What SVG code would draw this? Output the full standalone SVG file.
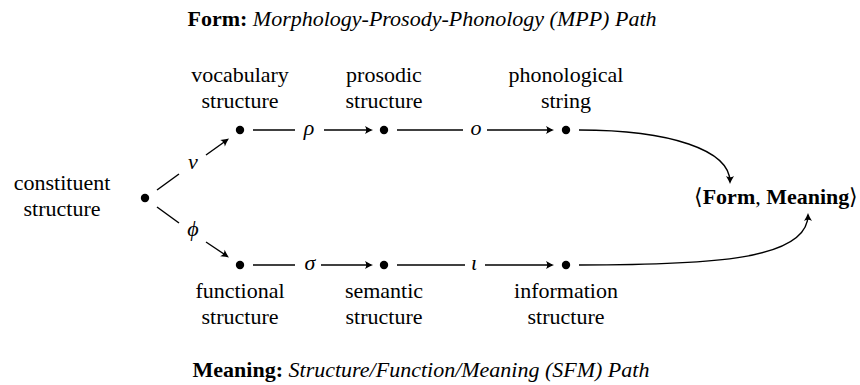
<svg xmlns="http://www.w3.org/2000/svg" width="860" height="385" viewBox="0 0 860 385">
  <style>
    .edge { fill: none; stroke: #000; stroke-width: 1.4; }
    .dot { fill: #000; }
    .head { fill: #000; }
  </style>
  <defs>
    <!-- barbed arrowhead, tip at the origin, pointing along +x -->
    <path id="ah" d="M -8,-4 Q -3,-1 0,0 Q -3,1 -8,4 Q -5.5,0 -8,-4 Z"/>
  </defs>

  <!-- headings -->
  <text x="422" y="26" font-family="Liberation Serif, Times New Roman, serif" font-size="22" text-anchor="middle"><tspan font-weight="bold">Form:</tspan> <tspan font-style="italic">Morphology-Prosody-Phonology (MPP) Path</tspan></text>
  <text x="421" y="377" font-family="Liberation Serif, Times New Roman, serif" font-size="22" text-anchor="middle"><tspan font-weight="bold">Meaning:</tspan> <tspan font-style="italic">Structure/Function/Meaning (SFM) Path</tspan></text>

  <!-- maps between structures, and the two curves into the form/meaning pair -->
  <g id="connectors">
    <line class="edge" x1="157" y1="190" x2="179" y2="174"/>
    <line class="edge" x1="206" y1="155" x2="227" y2="140"/>
    <use href="#ah" class="head" transform="translate(229,138.5) rotate(-35.7)"/>
    <text x="193" y="169" font-family="Liberation Serif, Times New Roman, serif" font-size="22" font-style="italic" text-anchor="middle">ν</text>

    <line class="edge" x1="157" y1="207" x2="179" y2="223"/>
    <line class="edge" x1="206" y1="242" x2="227" y2="256"/>
    <use href="#ah" class="head" transform="translate(229,257.5) rotate(34)"/>
    <text x="193" y="236" font-family="Liberation Serif, Times New Roman, serif" font-size="22" font-style="italic" text-anchor="middle">ϕ</text>

    <line class="edge" x1="253" y1="130" x2="295" y2="130"/>
    <text x="309" y="135" font-family="Liberation Serif, Times New Roman, serif" font-size="22" font-style="italic" text-anchor="middle">ρ</text>
    <line class="edge" x1="324" y1="130" x2="371" y2="130"/>
    <use href="#ah" class="head" transform="translate(373,130)"/>

    <line class="edge" x1="397" y1="130" x2="463" y2="130"/>
    <text x="476" y="135" font-family="Liberation Serif, Times New Roman, serif" font-size="22" font-style="italic" text-anchor="middle">o</text>
    <line class="edge" x1="487" y1="130" x2="552" y2="130"/>
    <use href="#ah" class="head" transform="translate(554,130)"/>

    <path class="edge" d="M 579,130 C 670,130 730,150 730,182"/>
    <use href="#ah" class="head" transform="translate(730,184) rotate(90)"/>

    <line class="edge" x1="253" y1="265" x2="295" y2="265"/>
    <text x="310" y="270" font-family="Liberation Serif, Times New Roman, serif" font-size="22" font-style="italic" text-anchor="middle">σ</text>
    <line class="edge" x1="321" y1="265" x2="371" y2="265"/>
    <use href="#ah" class="head" transform="translate(373,265)"/>

    <line class="edge" x1="397" y1="265" x2="465" y2="265"/>
    <text x="474" y="270" font-family="Liberation Serif, Times New Roman, serif" font-size="22" font-style="italic" text-anchor="middle">ι</text>
    <line class="edge" x1="485" y1="265" x2="552" y2="265"/>
    <use href="#ah" class="head" transform="translate(554,265)"/>

    <path class="edge" d="M 579,265 C 710,265 808,260 808,215"/>
    <use href="#ah" class="head" transform="translate(808,213) rotate(-90)"/>
  </g>

  <!-- structures -->
  <g id="constituent">
    <circle class="dot" cx="145" cy="198" r="4.2"/>
    <text x="62" y="190" font-family="Liberation Serif, Times New Roman, serif" font-size="22" text-anchor="middle">constituent</text>
    <text x="62" y="216" font-family="Liberation Serif, Times New Roman, serif" font-size="22" text-anchor="middle">structure</text>
  </g>
  <g id="vocabulary">
    <circle class="dot" cx="240" cy="130" r="4.2"/>
    <text x="240" y="82" font-family="Liberation Serif, Times New Roman, serif" font-size="22" text-anchor="middle">vocabulary</text>
    <text x="240" y="108" font-family="Liberation Serif, Times New Roman, serif" font-size="22" text-anchor="middle">structure</text>
  </g>
  <g id="prosodic">
    <circle class="dot" cx="384" cy="130" r="4.2"/>
    <text x="384" y="82" font-family="Liberation Serif, Times New Roman, serif" font-size="22" text-anchor="middle">prosodic</text>
    <text x="384" y="108" font-family="Liberation Serif, Times New Roman, serif" font-size="22" text-anchor="middle">structure</text>
  </g>
  <g id="phonological">
    <circle class="dot" cx="566" cy="130" r="4.2"/>
    <text x="566" y="82" font-family="Liberation Serif, Times New Roman, serif" font-size="22" text-anchor="middle">phonological</text>
    <text x="566" y="108" font-family="Liberation Serif, Times New Roman, serif" font-size="22" text-anchor="middle">string</text>
  </g>
  <g id="functional">
    <circle class="dot" cx="240" cy="265" r="4.2"/>
    <text x="240" y="298" font-family="Liberation Serif, Times New Roman, serif" font-size="22" text-anchor="middle">functional</text>
    <text x="240" y="324" font-family="Liberation Serif, Times New Roman, serif" font-size="22" text-anchor="middle">structure</text>
  </g>
  <g id="semantic">
    <circle class="dot" cx="384" cy="265" r="4.2"/>
    <text x="384" y="298" font-family="Liberation Serif, Times New Roman, serif" font-size="22" text-anchor="middle">semantic</text>
    <text x="384" y="324" font-family="Liberation Serif, Times New Roman, serif" font-size="22" text-anchor="middle">structure</text>
  </g>
  <g id="information">
    <circle class="dot" cx="566" cy="265" r="4.2"/>
    <text x="566" y="298" font-family="Liberation Serif, Times New Roman, serif" font-size="22" text-anchor="middle">information</text>
    <text x="566" y="324" font-family="Liberation Serif, Times New Roman, serif" font-size="22" text-anchor="middle">structure</text>
  </g>
  <g id="form-meaning">
    <text x="776" y="204" font-family="Liberation Serif, Times New Roman, serif" font-size="22" text-anchor="middle">⟨<tspan font-weight="bold">Form</tspan>, <tspan font-weight="bold">Meaning</tspan>⟩</text>
  </g>
</svg>
